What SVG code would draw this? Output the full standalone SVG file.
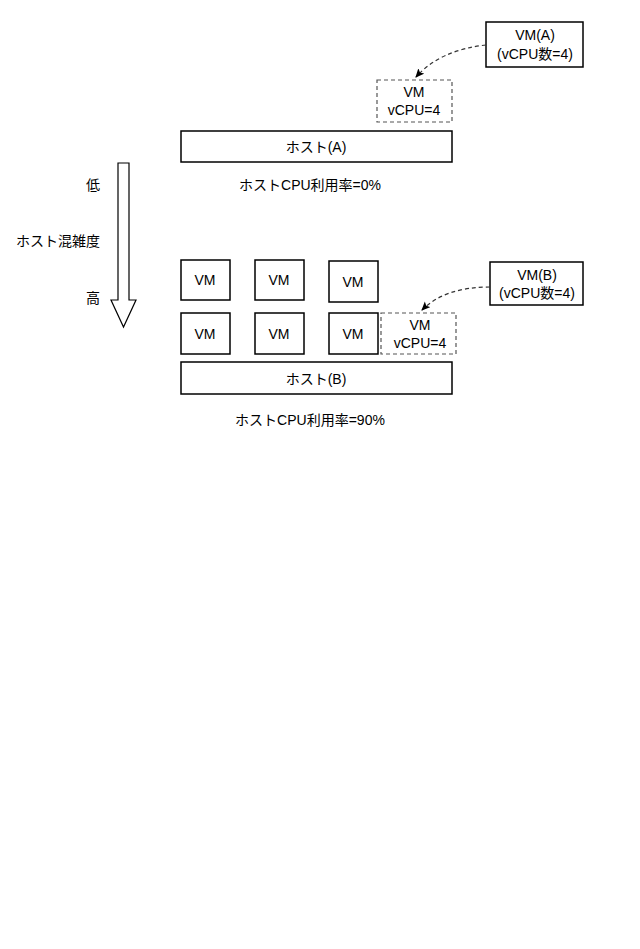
<svg xmlns="http://www.w3.org/2000/svg" width="640" height="949" viewBox="0 0 640 949">
<style>
.b{fill:#fff;stroke:#000;stroke-width:1.5}
.d{fill:#fff;stroke:#555;stroke-width:1.2;stroke-dasharray:4 3}
text{font-family:"Liberation Sans","Noto Sans CJK JP",sans-serif;font-size:14px;text-anchor:middle;fill:#000}
.c{fill:none;stroke:#333;stroke-width:1.2;stroke-dasharray:4 3}
</style>
<defs><marker id="ah" markerWidth="10" markerHeight="10" refX="8" refY="4" orient="auto" markerUnits="userSpaceOnUse"><path d="M0,0 L9,4 L0,8 L2,4 z" fill="#000"/></marker></defs>
<rect width="640" height="949" fill="#fff"/>
<g id="scale">
<path d="M118,163 H129 V300 H136 L123.5,327 L111,300 H118 Z" fill="#fff" stroke="#000" stroke-width="1.2"/>
<text x="93" y="190">低</text>
<text x="58" y="246">ホスト混雑度</text>
<text x="93" y="303">高</text>
</g>
<g id="vmA"><rect class="b" x="486" y="22" width="97" height="45"/><text x="535" y="40">VM(A)</text><text x="535" y="59">(vCPU数=4)</text></g>
<g id="vmA-new"><rect class="d" x="377" y="80" width="75" height="42"/><text x="414" y="97">VM</text><text x="414" y="115">vCPU=4</text></g>
<g id="hostA"><rect class="b" x="181" y="131" width="271" height="31"/><text x="316" y="152">ホスト(A)</text><text x="310" y="190">ホストCPU利用率=0%</text></g>
<g id="vms">
<rect class="b" x="181" y="260" width="49" height="40"/><text x="205" y="285">VM</text>
<rect class="b" x="255" y="260" width="49" height="40"/><text x="279" y="285">VM</text>
<rect class="b" x="329" y="261" width="49" height="41"/><text x="353" y="287">VM</text>
<rect class="b" x="181" y="313" width="49" height="41"/><text x="205" y="339">VM</text>
<rect class="b" x="255" y="313" width="49" height="41"/><text x="279" y="339">VM</text>
<rect class="b" x="329" y="313" width="49" height="41"/><text x="353" y="339">VM</text>
</g>
<g id="vmB-new"><rect class="d" x="381" y="313" width="75" height="41"/><text x="420" y="330">VM</text><text x="420" y="348">vCPU=4</text></g>
<g id="vmB"><rect class="b" x="490" y="262" width="93" height="43"/><text x="537" y="280">VM(B)</text><text x="537" y="298">(vCPU数=4)</text></g>
<g id="hostB"><rect class="b" x="181" y="362" width="271" height="32"/><text x="316" y="384">ホスト(B)</text><text x="310" y="425">ホストCPU利用率=90%</text></g>
<g id="connectors">
<path class="c" d="M486,45 Q440,50 416,77" marker-end="url(#ah)"/>
<path class="c" d="M490,287 Q445,287 422,310" marker-end="url(#ah)"/>
</g>
</svg>
